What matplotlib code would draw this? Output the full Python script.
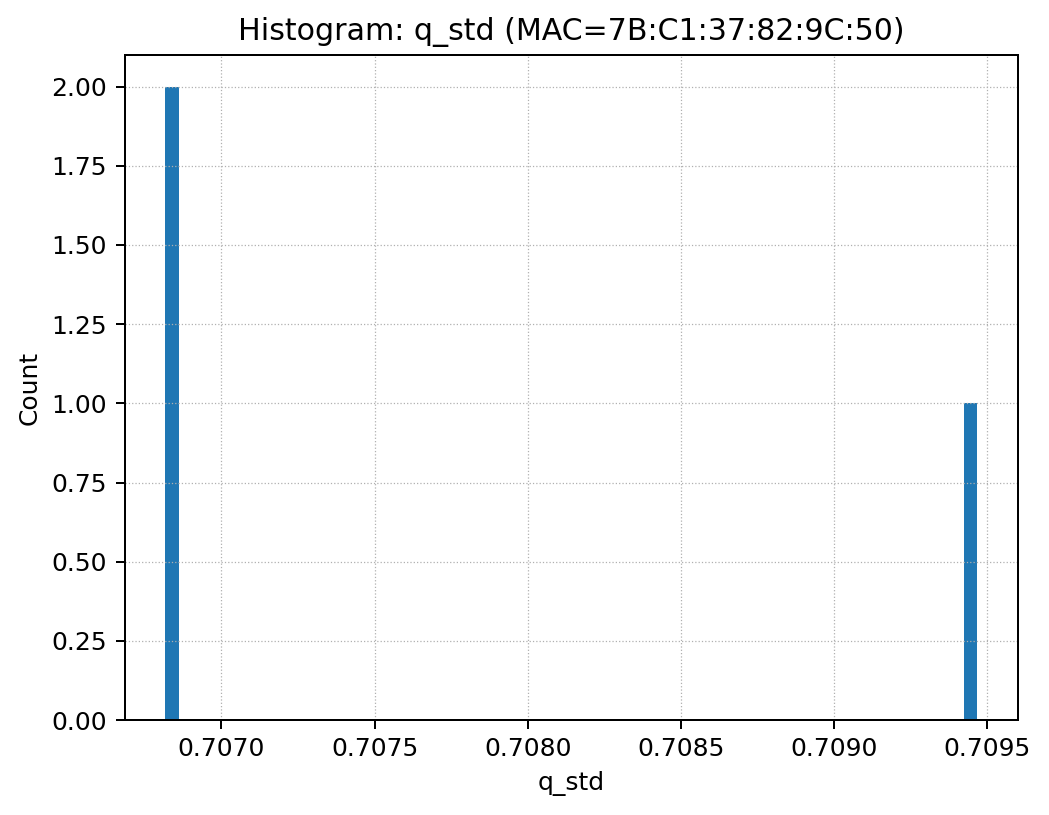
import numpy as np
import matplotlib
matplotlib.use("Agg")
import matplotlib.pyplot as plt

# q_std values for this MAC
mac = "7B:C1:37:82:9C:50"
q_std = [0.706816, 0.706830, 0.709467]
n_bins = 60

W, H, DPI = 1049, 815, 180
fig, ax = plt.subplots(figsize=(W / DPI, H / DPI), dpi=DPI)
fig.subplots_adjust(left=124.5 / W, right=1018 / W, top=1 - 55 / H, bottom=1 - 720 / H)

ax.hist(q_std, bins=n_bins, color="#1f77b4")
ax.set_title(f"Histogram: q_std (MAC={mac})")
ax.set_xlabel("q_std")
ax.set_ylabel("Count")
ax.grid(True, linestyle=":", linewidth=0.5, color="#b0b0b0")
ax.set_yticks(np.arange(0, 2.01, 0.25))
ax.yaxis.set_major_formatter(matplotlib.ticker.FormatStrFormatter("%.2f"))

fig.savefig("out.png", dpi=DPI)
